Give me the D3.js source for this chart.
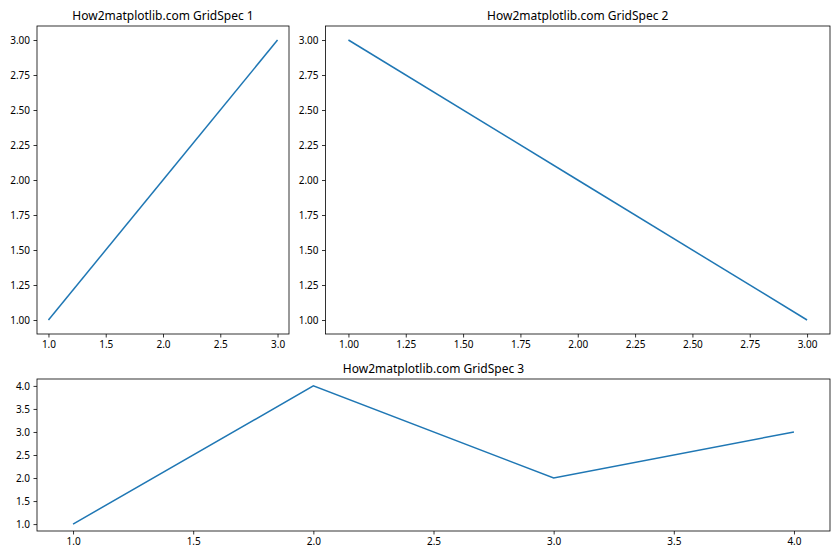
<!DOCTYPE html>
<html><head><meta charset="utf-8">
<script src="https://cdn.jsdelivr.net/npm/d3@7"></script>
<style>body{margin:0;background:#fff}svg{display:block}text{font-family:"Noto Sans","DejaVu Sans",sans-serif}</style>
</head><body>
<svg id="c" width="840" height="560"></svg>
<script>
const titles = ["How2matplotlib.com GridSpec 1","How2matplotlib.com GridSpec 2","How2matplotlib.com GridSpec 3"];
const x1 = [1,2,3], y1 = [1,2,3];
const x2 = [1,2,3], y2 = [3,2,1];
const x3 = [1,2,3,4], y3 = [1,4,2,3];
const xt1 = [1.0,1.5,2.0,2.5,3.0], yt1 = [1.00,1.25,1.50,1.75,2.00,2.25,2.50,2.75,3.00];
const xt2 = [1.00,1.25,1.50,1.75,2.00,2.25,2.50,2.75,3.00], yt2 = yt1;
const xt3 = [1.0,1.5,2.0,2.5,3.0,3.5,4.0], yt3 = [1.0,1.5,2.0,2.5,3.0,3.5,4.0];

const svg = d3.select("#c");
function panel(box, xs, ys, xt, yt, xfmt, yfmt, title){
  const [l,t,r,b] = box;
  const xmin=d3.min(xs), xmax=d3.max(xs), ymin=d3.min(ys), ymax=d3.max(ys);
  const xp=(xmax-xmin)*0.05, yp=(ymax-ymin)*0.05;
  const x=d3.scaleLinear().domain([xmin-xp,xmax+xp]).range([l,r]);
  const y=d3.scaleLinear().domain([ymin-yp,ymax+yp]).range([b,t]);
  const g=svg.append("g");
  const ax=g.append("g").attr("transform",`translate(0,${b})`).call(d3.axisBottom(x).tickValues(xt).tickFormat(d3.format(xfmt)).tickSize(3.5).tickPadding(3.5));
  const ay=g.append("g").attr("transform",`translate(${l},0)`).call(d3.axisLeft(y).tickValues(yt).tickFormat(d3.format(yfmt)).tickSize(3.5).tickPadding(3.5));
  [ax,ay].forEach(a=>{a.select(".domain").remove();a.selectAll("text").attr("font-size",10).attr("fill","#000").attr("font-family","'Noto Sans','DejaVu Sans',sans-serif");a.selectAll("line").attr("stroke","#000").attr("stroke-width",0.8);});
  g.append("path").datum(xs.map((d,i)=>[d,ys[i]])).attr("fill","none").attr("stroke","#1f77b4").attr("stroke-width",1.5)
    .attr("d",d3.line().x(d=>x(d[0])).y(d=>y(d[1])));
  g.append("rect").attr("x",l).attr("y",t).attr("width",r-l).attr("height",b-t).attr("fill","none").attr("stroke","#000").attr("stroke-width",0.8);
  g.append("text").attr("x",(l+r)/2).attr("y",t-6).attr("text-anchor","middle").attr("font-size",12).attr("fill","#000").text(title);
}
panel([37,26,289,334], x1,y1,xt1,yt1,".1f",".2f",titles[0]);
panel([325.5,26,830,334], x2,y2,xt2,yt2,".2f",".2f",titles[1]);
panel([37,379,830,531], x3,y3,xt3,yt3,".1f",".1f",titles[2]);
</script>
</body></html>
